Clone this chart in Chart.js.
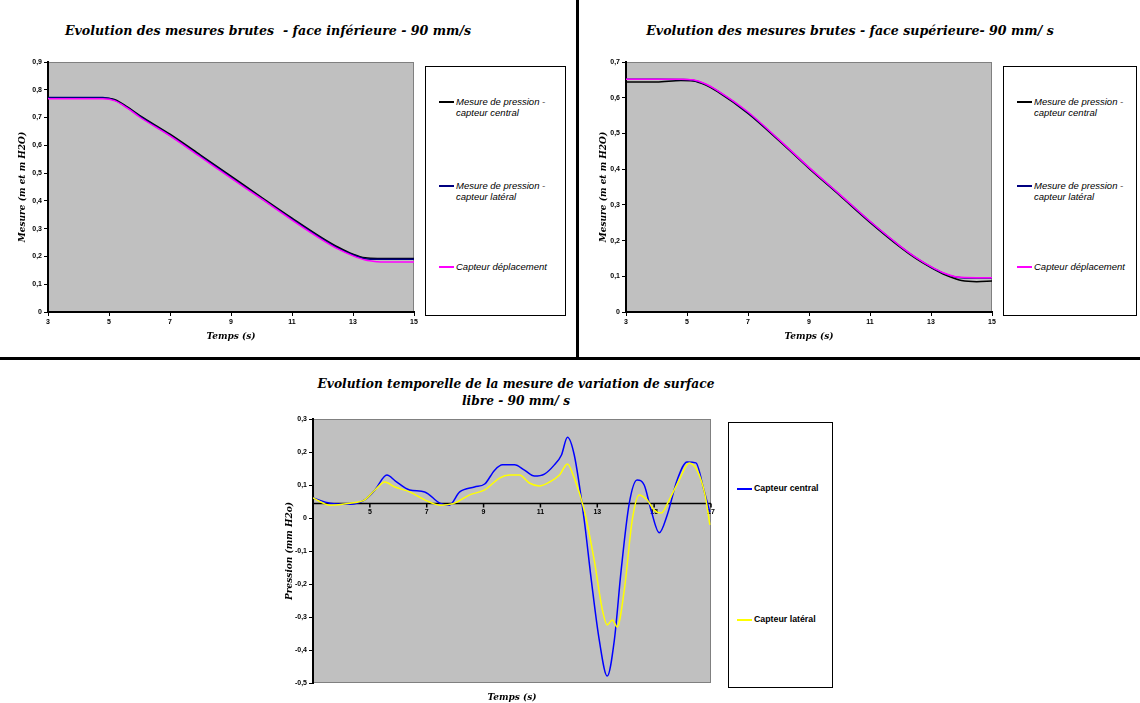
<!DOCTYPE html>
<html>
<head>
<meta charset="utf-8">
<script src="https://cdn.jsdelivr.net/npm/chart.js@4"></script>
<style>
  body { margin:0; background:#fff; }
  #page { position:relative; width:1140px; height:703px; overflow:hidden; background:#fff; }
  .abs { position:absolute; }
  .title { font-family:"DejaVu Serif", serif; font-weight:bold; font-style:italic; font-size:12.6px; color:#000; text-align:center; line-height:17px; }
  .legend { border:1px solid #000; background:#fff; box-sizing:border-box; }
  .leg-item { position:absolute; font-family:"Liberation Sans", Arial, sans-serif; font-size:9.5px; font-style:italic; color:#000; line-height:11px; white-space:nowrap; }
  .leg-line { position:absolute; height:2px; }
</style>
</head>
<body>
<div id="page">
  <div class="abs" style="left:576px;top:0;width:3px;height:359px;background:#000"></div>
  <div class="abs" style="left:0;top:357px;width:1140px;height:3px;background:#000"></div>

  <div class="abs title" style="left:0;top:22px;width:536px">Evolution des mesures brutes&nbsp; - face inférieure - 90 mm/s</div>
  <div class="abs title" style="left:580px;top:22px;width:540px">Evolution des mesures brutes - face supérieure- 90 mm/ s</div>
  <div class="abs title" style="left:250px;top:376px;width:532px;font-size:12.2px">Evolution temporelle de la mesure de variation de surface<br>libre - 90 mm/ s</div>

  <canvas id="inf" class="abs" width="420" height="305" style="left:0;top:45px"></canvas>
  <canvas id="sup" class="abs" width="420" height="305" style="left:578px;top:45px"></canvas>
  <canvas id="surf" class="abs" width="470" height="293" style="left:250px;top:410px"></canvas>

  <div id="legInf" class="abs legend" style="left:425px;top:66px;width:141px;height:250px"></div>
  <div id="legSup" class="abs legend" style="left:1003px;top:66px;width:134px;height:250px"></div>
  <div id="legSurf" class="abs legend" style="left:728px;top:422px;width:105px;height:266px"></div>
</div>
<script>
// temps (s) - faces inferieure / superieure
const TIME_INF = [3, 4, 4.8, 5.2, 5.6, 6, 7, 8, 9, 10, 11, 12, 12.5, 13, 13.4, 13.8, 14, 15];
const INF_CENTRAL = [0.770, 0.770, 0.770, 0.764, 0.738, 0.708, 0.640, 0.565, 0.489, 0.413, 0.338, 0.266, 0.234, 0.208, 0.195, 0.193, 0.193, 0.193];
const INF_LATERAL = [0.772, 0.772, 0.772, 0.762, 0.736, 0.705, 0.636, 0.561, 0.485, 0.409, 0.334, 0.262, 0.230, 0.205, 0.192, 0.190, 0.190, 0.190];
const INF_DEPL    = [0.768, 0.768, 0.768, 0.760, 0.734, 0.702, 0.634, 0.558, 0.482, 0.407, 0.331, 0.259, 0.227, 0.202, 0.187, 0.181, 0.180, 0.180];

const TIME_SUP = [3, 4, 4.8, 5.2, 5.6, 6, 7, 8, 9, 10, 11, 12, 12.5, 13, 13.4, 13.8, 14, 14.5, 15];
const SUP_CENTRAL = [0.644, 0.644, 0.648, 0.647, 0.636, 0.617, 0.556, 0.481, 0.402, 0.327, 0.251, 0.181, 0.150, 0.124, 0.106, 0.093, 0.088, 0.085, 0.087];
const SUP_LATERAL = [0.652, 0.652, 0.651, 0.649, 0.638, 0.619, 0.558, 0.483, 0.404, 0.329, 0.253, 0.183, 0.152, 0.126, 0.109, 0.098, 0.096, 0.095, 0.095];
const SUP_DEPL    = [0.652, 0.652, 0.652, 0.650, 0.639, 0.620, 0.560, 0.484, 0.405, 0.330, 0.254, 0.184, 0.153, 0.127, 0.110, 0.099, 0.097, 0.096, 0.096];

// surface libre
const CENTRAL_T = [3, 3.6, 4.3, 4.82, 5.18, 5.6, 5.9, 6.4, 6.93, 7.46, 7.8, 8.16, 8.68, 9.04, 9.39, 9.67, 10.09, 10.44, 10.79, 11.14, 11.49, 11.74, 11.95, 12.19, 12.54, 12.79, 13.07, 13.35, 13.6, 13.84, 14.12, 14.4, 14.65, 14.89, 15.18, 15.46, 15.81, 16.16, 16.47, 16.75, 16.96];
const CENTRAL_V = [0.061, 0.045, 0.042, 0.055, 0.085, 0.130, 0.112, 0.085, 0.079, 0.045, 0.039, 0.079, 0.094, 0.103, 0.145, 0.161, 0.161, 0.145, 0.127, 0.133, 0.161, 0.191, 0.245, 0.191, -0.006, -0.188, -0.370, -0.479, -0.370, -0.158, 0.042, 0.115, 0.1, 0.024, -0.045, 0.009, 0.115, 0.170, 0.167, 0.085, 0.018];
const LATERAL_T = [3, 3.6, 4.3, 4.82, 5.18, 5.53, 5.88, 6.4, 6.93, 7.46, 7.98, 8.51, 9.04, 9.56, 9.91, 10.26, 10.61, 10.96, 11.32, 11.67, 11.95, 12.19, 12.54, 12.89, 13.18, 13.35, 13.53, 13.7, 13.95, 14.23, 14.47, 14.75, 15.0, 15.25, 15.53, 15.88, 16.23, 16.51, 16.79, 16.96];
const LATERAL_V = [0.061, 0.039, 0.045, 0.055, 0.085, 0.109, 0.094, 0.079, 0.055, 0.039, 0.045, 0.070, 0.085, 0.121, 0.130, 0.130, 0.106, 0.097, 0.109, 0.130, 0.164, 0.121, 0.024, -0.127, -0.279, -0.324, -0.309, -0.330, -0.218, -0.006, 0.070, 0.055, 0.024, 0.015, 0.055, 0.115, 0.167, 0.145, 0.070, -0.021];

const AXIS_CROSS = 0.045;   // l'axe des temps coupe ici (bas)

const LABELS_TOP = ["Mesure de pression -\ncapteur central", "Mesure de pression -\ncapteur latéral", "Capteur déplacement"];
const COLORS_TOP = ["#000000", "#000080", "#ff00ff"];
const LABELS_SURF = ["Capteur central", "Capteur latéral"];
const COLORS_SURF = ["#0000ff", "#ffff00"];

const TICK_FONT = { family: "'Liberation Sans', Arial, sans-serif", size: 7, weight: "bold" };
const TITLE_FONT = { family: "'DejaVu Serif', serif", size: 9, weight: "bold", style: "italic" };

function frNum(v) {
  if (Math.abs(v) < 1e-9) return "0";
  return v.toFixed(1).replace(".", ",");
}

function pts(xs, ys) { return xs.map((x, i) => ({ x, y: ys[i] })); }

// fond gris de la zone de tracé
const plotBg = {
  id: "plotBg",
  beforeDraw(chart) {
    const a = chart.chartArea, ctx = chart.ctx;
    ctx.save();
    ctx.fillStyle = "#c0c0c0";
    ctx.fillRect(a.left, a.top, a.right - a.left, a.bottom - a.top);
    ctx.strokeStyle = "#808080";
    ctx.lineWidth = 1;
    ctx.strokeRect(a.left + 0.5, a.top + 0.5, a.right - a.left - 1, a.bottom - a.top - 1);
    ctx.restore();
  }
};

// axe horizontal qui coupe l'axe vertical à AXIS_CROSS
const crossAxis = {
  id: "crossAxis",
  beforeDatasetsDraw(chart) {
    const { ctx, chartArea: a, scales: { x, y } } = chart;
    const py = Math.round(y.getPixelForValue(AXIS_CROSS)) + 0.5;
    ctx.save();
    ctx.strokeStyle = "#000";
    ctx.lineWidth = 1.5;
    ctx.beginPath();
    ctx.moveTo(a.left, py); ctx.lineTo(a.right, py);
    ctx.stroke();
    ctx.font = "bold 7px 'Liberation Sans', Arial, sans-serif";
    ctx.fillStyle = "#000";
    ctx.textAlign = "center";
    ctx.textBaseline = "top";
    x.ticks.forEach(t => {
      if (t.value <= x.min) return;
      const px = x.getPixelForValue(t.value);
      ctx.beginPath();
      ctx.moveTo(px, py); ctx.lineTo(px, py + 4);
      ctx.stroke();
      ctx.fillText(String(t.value), px, py + 5);
    });
    ctx.restore();
  }
};

function topChart(id, time, series, yMax, yTitlePad) {
  const datasets = series.map((s, i) => ({
    label: LABELS_TOP[i],
    data: pts(time, s),
    borderColor: COLORS_TOP[i],
    borderWidth: 1.5,
    pointRadius: 0,
    cubicInterpolationMode: "monotone",
    order: 2 - i
  }));
  return new Chart(document.getElementById(id), {
    type: "line",
    data: { datasets },
    options: {
      responsive: false, animation: false,
      layout: { padding: { top: 17, right: 6, left: 0, bottom: 0 } },
      plugins: { legend: { display: false }, tooltip: { enabled: false } },
      scales: {
        x: {
          type: "linear", min: 3, max: 15,
          ticks: { stepSize: 2, font: TICK_FONT, color: "#000", padding: 2, maxRotation: 0 },
          grid: { drawOnChartArea: false, color: "#000", tickLength: 4 },
          border: { color: "#000", width: 2 },
          title: { display: true, text: "Temps (s)", font: TITLE_FONT, color: "#000", padding: { top: 0, bottom: 8 } },
          afterFit(s) { s.height = 38; }
        },
        y: {
          min: 0, max: yMax,
          ticks: { stepSize: 0.1, font: TICK_FONT, color: "#000", padding: 2, callback: v => frNum(v) },
          grid: { drawOnChartArea: false, color: "#000", tickLength: 4 },
          border: { color: "#000", width: 2 },
          title: { display: true, text: "Mesure (m et m H2O)", font: TITLE_FONT, color: "#000", padding: { top: yTitlePad, bottom: 0 } },
          afterFit(s) { s.width = 48; }
        }
      }
    },
    plugins: [plotBg]
  });
}

topChart("inf", TIME_INF, [INF_CENTRAL, INF_LATERAL, INF_DEPL], 0.9, 17);
topChart("sup", TIME_SUP, [SUP_CENTRAL, SUP_LATERAL, SUP_DEPL], 0.7, 20);

new Chart(document.getElementById("surf"), {
  type: "line",
  data: {
    datasets: [
      { label: LABELS_SURF[0], data: pts(CENTRAL_T, CENTRAL_V), borderColor: COLORS_SURF[0], borderWidth: 1.5, pointRadius: 0, cubicInterpolationMode: "monotone", order: 1 },
      { label: LABELS_SURF[1], data: pts(LATERAL_T, LATERAL_V), borderColor: COLORS_SURF[1], borderWidth: 1.5, pointRadius: 0, cubicInterpolationMode: "monotone", order: 0 }
    ]
  },
  options: {
    responsive: false, animation: false,
    layout: { padding: { top: 9, right: 9, left: 0, bottom: 0 } },
    plugins: { legend: { display: false }, tooltip: { enabled: false } },
    scales: {
      x: {
        type: "linear", min: 3, max: 17,
        ticks: { stepSize: 2, display: false },
        grid: { display: false },
        border: { display: false },
        title: { display: true, text: "Temps (s)", font: TITLE_FONT, color: "#000", padding: { top: 0, bottom: 0 } },
        afterFit(s) { s.height = 20; }
      },
      y: {
        min: -0.5, max: 0.3,
        ticks: { stepSize: 0.1, font: TICK_FONT, color: "#000", padding: 2, callback: v => frNum(v) },
        grid: { drawOnChartArea: false, color: "#000", tickLength: 4 },
        border: { color: "#000", width: 2 },
        title: { display: true, text: "Pression (mm H2o)", font: TITLE_FONT, color: "#000", padding: { top: 34, bottom: 0 } },
        afterFit(s) { s.width = 63; }
      }
    }
  },
  plugins: [plotBg, crossAxis]
});

// légendes
function buildLegend(id, labels, colors, tops, lineLeft, bold) {
  const box = document.getElementById(id);
  labels.forEach((lab, i) => {
    const line = document.createElement("div");
    line.className = "leg-line";
    line.style.left = lineLeft + "px";
    line.style.width = "15px";
    line.style.top = (tops[i] - 1) + "px";
    line.style.background = colors[i];
    box.appendChild(line);
    const txt = document.createElement("div");
    txt.className = "leg-item";
    txt.style.left = (lineLeft + 17) + "px";
    txt.style.top = (tops[i] - 6) + "px";
    if (bold) { txt.style.fontWeight = "bold"; txt.style.fontStyle = "normal"; txt.style.fontSize = "8.8px"; }
    txt.innerHTML = lab.replace("\n", "<br>");
    box.appendChild(txt);
  });
}
buildLegend("legInf", LABELS_TOP, COLORS_TOP, [35, 119, 200], 13, false);
buildLegend("legSup", LABELS_TOP, COLORS_TOP, [35, 119, 200], 13, false);
buildLegend("legSurf", LABELS_SURF, COLORS_SURF, [66, 197], 8, true);
</script>
</body>
</html>
